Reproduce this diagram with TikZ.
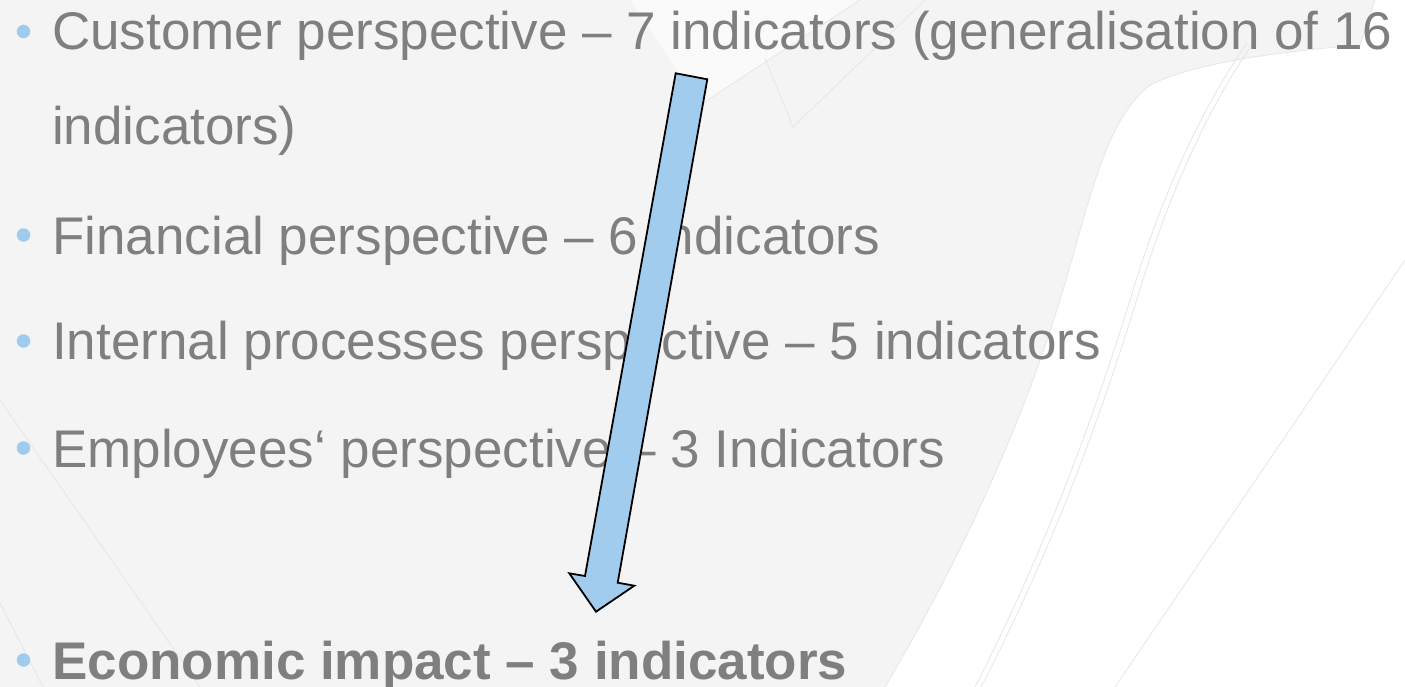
\documentclass[tikz,border=0pt]{standalone}
\usepackage{fontspec}
\usepackage{graphicx}
\setmainfont{Liberation Sans}
\definecolor{bg}{HTML}{F4F4F4}
\definecolor{txtgray}{HTML}{7F7F7F}
\definecolor{bulletblue}{HTML}{9ECBEE}
\definecolor{arrowblue}{HTML}{A2CCEE}
\definecolor{faint}{HTML}{E6E6E6}
\tikzset{
  item/.style={anchor=base west, inner sep=0pt, text=txtgray, font=\fontsize{53}{60}\selectfont},
  dot/.style={circle, fill=bulletblue, minimum size=13.5pt, inner sep=0pt},
  faintline/.style={draw=faint, line width=0.8pt},
  bigarrow/.style={fill=arrowblue, draw=black, line width=1.8pt, line join=miter}
}
\begin{document}
\begin{tikzpicture}[x=1pt,y=-1pt]
\useasboundingbox (0,0) rectangle (1405,687);
% background
\fill[bg] (0,0) rectangle (1405,687);
\fill[white] (885,687) .. controls (960,560) and (1020,430) .. (1060,300)
  .. controls (1090,200) and (1105,120) .. (1150,85)
  .. controls (1200,60) and (1300,50) .. (1360,45) -- (1375,0) -- (1405,0) -- (1405,687) -- cycle;
\draw[faintline] (885,687) .. controls (960,560) and (1020,430) .. (1060,300)
  .. controls (1090,200) and (1105,120) .. (1150,85)
  .. controls (1200,60) and (1300,50) .. (1360,45) -- (1375,0);
\fill[white, opacity=0.6] (700,105) -- (630,0) -- (860,0) -- cycle;
\draw[faintline] (700,105) -- (860,0);
\draw[faintline] (765,58) -- (793,127) -- (925,0);
\draw[faintline] (0,400) -- (200,687);
\draw[faintline] (0,603) -- (43,687);
\draw[faintline] (1247,43) .. controls (1200,110) and (1160,200) .. (1130,300)
  .. controls (1090,430) and (1040,560) .. (975,687);
\draw[faintline] (1252,45) .. controls (1205,112) and (1166,202) .. (1136,302)
  .. controls (1096,432) and (1046,562) .. (981,687);
\draw[faintline] (1405,260) -- (1200,562) -- (1115,687);

% bullets and text
\node[dot] (b1) at (23.5,31.5) {};
\node[item] (t1) at (52,50) {Customer perspective – 7 indicators (generalisation of 16};
\node[item] (t1b) at (52,145) {indicators)};
\node[dot] (b2) at (23.5,235) {};
\node[item] (t2) at (52,254) {Financial perspective – 6 indicators};
\node[dot] (b3) at (23.5,341) {};
\node[item] (t3) at (52,359) {Internal processes perspective – 5 indicators};
\node[dot] (b4) at (23.5,448) {};
\node[item] (t4) at (52,467) {Employees‘ perspective – 3 Indicators};
\node[dot] (b5) at (23.5,660) {};
\node[item] (t5) at (52,679) {\bfseries Economic impact – 3 indicators};

% arrow
\coordinate (atl) at (675.7,73.3);
\coordinate (atr) at (707.3,79.3);
\coordinate (asr) at (617.7,582.7);
\coordinate (ahr) at (634.3,585.7);
\coordinate (atip) at (596,611.7);
\coordinate (ahl) at (569.3,573.3);
\coordinate (asl) at (585,576);
\path[bigarrow] (atl) -- (atr) -- (asr) -- (ahr) -- (atip) -- (ahl) -- (asl) -- cycle;
\end{tikzpicture}
\end{document}
